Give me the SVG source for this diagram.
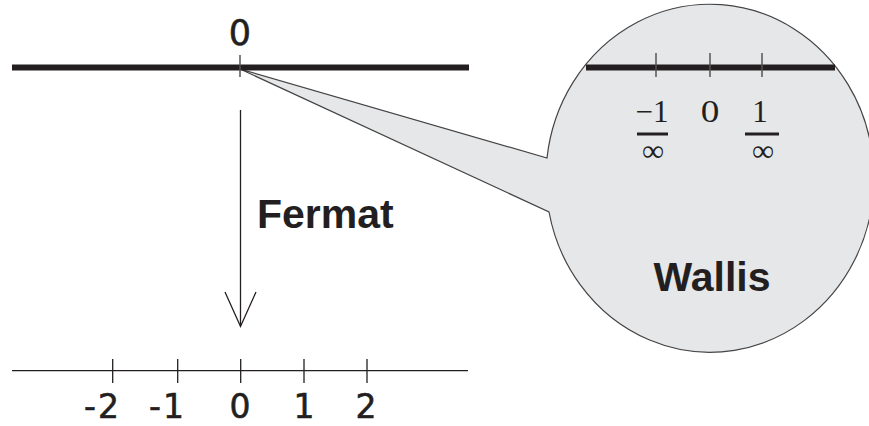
<svg xmlns="http://www.w3.org/2000/svg" width="869" height="426" viewBox="0 0 869 426">
<style>
.sans{font-family:"Liberation Sans",Arial,sans-serif;fill:#231f20}
.num{font-family:"DejaVu Sans","Liberation Sans",sans-serif;fill:#231f20;stroke:#231f20;stroke-width:0.6}
.serif{font-family:"Liberation Serif","Times New Roman",serif;fill:#231f20;font-size:31px;text-anchor:middle}
.thick{stroke:#231f20;stroke-width:6;fill:none}
.thin{stroke:#231f20;stroke-width:1.3;fill:none}
.tick{stroke:#555;stroke-width:1.5}
</style>
<rect width="869" height="426" fill="#fff"/>
<g id="wallis">
<path d="M240,69 L547,158 A164,174 0 1,1 549,212 Z" fill="#e6e7e9" stroke="#444" stroke-width="1.2" stroke-linejoin="miter"/>
<line class="thick" x1="586" y1="67.5" x2="835" y2="67.5"/>
<line class="tick" x1="656" y1="53" x2="656" y2="77"/>
<line class="tick" x1="710" y1="53" x2="710" y2="77"/>
<line class="tick" x1="762" y1="53" x2="762" y2="77"/>
<text class="serif" x="652" y="122">−1</text>
<rect x="637" y="132.5" width="31" height="3" fill="#231f20"/>
<text class="serif" x="653" y="161">∞</text>
<text class="serif" x="710" y="122" transform="translate(710 0) scale(1.2 1) translate(-710 0)">0</text>
<text class="serif" x="760" y="122">1</text>
<rect x="745" y="132.5" width="34" height="3" fill="#231f20"/>
<text class="serif" x="763" y="161">∞</text>
<text class="sans" x="712" y="291" font-size="41" font-weight="bold" text-anchor="middle">Wallis</text>
</g>
<g id="top-line">
<line class="thick" x1="12" y1="67.5" x2="469" y2="67.5"/>
<line class="tick" x1="240" y1="55" x2="240" y2="77"/>
<text class="num" x="240" y="44.5" font-size="35" text-anchor="middle">0</text>
</g>
<g id="bottom-line">
<line class="thin" x1="12" y1="370.7" x2="468" y2="370.7"/>
<line class="thin" x1="112.7" y1="359" x2="112.7" y2="383"/>
<line class="thin" x1="177.7" y1="359" x2="177.7" y2="383"/>
<line class="thin" x1="240.7" y1="359" x2="240.7" y2="383"/>
<line class="thin" x1="304" y1="359" x2="304" y2="383"/>
<line class="thin" x1="367" y1="359" x2="367" y2="383"/>
<g class="num" font-size="33">
<text x="84" y="417.5" letter-spacing="2">-2</text>
<text x="149" y="417.5" letter-spacing="2">-1</text>
<text x="240" y="417.5" text-anchor="middle">0</text>
<text x="304" y="417.5" text-anchor="middle">1</text>
<text x="366" y="417.5" text-anchor="middle">2</text>
</g>
</g>
<g id="connectors">
<line class="thin" x1="240.5" y1="110" x2="240.5" y2="326"/>
<polyline class="thin" points="225,292 240.5,326.5 256,292"/>
<text class="sans" x="257" y="228" font-size="41" font-weight="bold">Fermat</text>
</g>
</svg>
